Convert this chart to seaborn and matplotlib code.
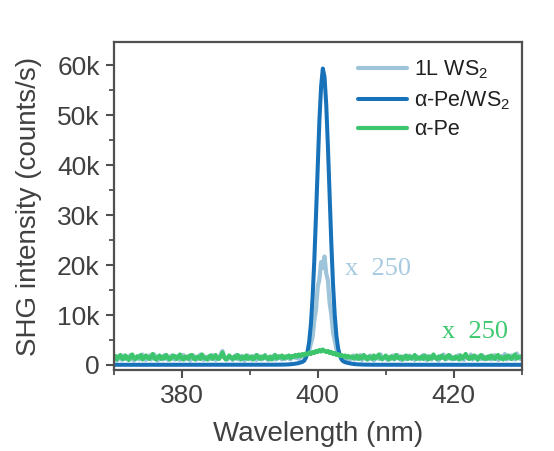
import matplotlib
matplotlib.use("Agg")
import matplotlib.pyplot as plt
import numpy as np
import pandas as pd
import seaborn as sns

# wavelength grid (nm), 0.25 nm steps from 370 to 430
wavelength = np.linspace(370, 430, 241)

# SHG intensity in k counts/s
ws2_1l = [
    1.1, 1.7, 0.9, 1.8, 1.3, 1.0, 1.9, 1.4, 1.1, 1.6, 2.0, 1.2, 0.9, 1.5, 1.8, 1.1, 1.6, 2.1, 1.2, 1.0,
    1.5, 1.9, 1.1, 1.6, 2.1, 1.2, 0.9, 1.8, 1.4, 1.1, 2.0, 1.5, 1.0, 1.4, 1.9, 1.2, 1.1, 1.8, 1.4, 1.0,
    1.6, 2.0, 1.1, 1.4, 1.8, 0.9, 1.3, 1.9, 1.5, 1.1, 1.4, 2.1, 1.2, 1.0, 1.7, 1.4, 1.1, 1.6, 2.0, 1.2,
    1.0, 1.6, 1.4, 2.2, 2.8, 1.8, 1.2, 1.1, 1.7, 1.4, 1.0, 1.6, 2.0, 1.2, 1.1, 1.8, 1.4, 0.9, 1.6, 1.9,
    1.2, 1.1, 1.8, 1.4, 1.0, 1.9, 1.5, 1.1, 1.4, 2.0, 1.2, 1.0, 1.6, 1.4, 1.9, 1.1, 1.2, 1.8, 1.4, 1.1,
    1.6, 1.2, 1.8, 1.4, 1.1, 1.6, 1.9, 1.4, 1.7, 1.2, 1.6, 2.0, 1.6, 1.9, 2.3, 3.0, 4.3, 5.6, 8.9, 11.1,
    15.6, 17.2, 20.6, 19.4, 21.7, 18.3, 16.9, 12.4, 10.1, 6.5, 4.9, 3.1, 2.5, 1.8, 1.9, 1.4, 1.7, 1.2, 1.6, 1.1,
    1.4, 1.9, 1.1, 1.6, 1.3, 2.0, 1.0, 1.4, 1.8, 1.2, 1.1, 1.9, 1.5, 0.9, 1.4, 1.8, 1.2, 2.1, 1.1, 1.4,
    1.8, 1.0, 1.6, 1.2, 1.9, 1.1, 1.4, 2.0, 1.2, 1.0, 1.6, 1.8, 1.1, 1.4, 1.9, 1.2, 1.6, 1.0, 1.8, 1.4,
    1.1, 1.6, 2.0, 1.2, 1.0, 1.8, 1.4, 1.1, 1.9, 1.5, 1.2, 0.9, 1.8, 1.4, 2.1, 1.1, 1.2, 1.6, 1.9, 1.1,
    1.4, 1.2, 1.8, 2.0, 1.1, 1.6, 1.0, 1.9, 1.4, 1.2, 2.1, 1.1, 1.6, 1.8, 1.0, 1.4, 1.2, 1.9, 1.1, 1.6,
    1.2, 1.8, 1.1, 1.4, 2.0, 1.6, 1.0, 1.2, 1.8, 1.4, 2.2, 1.1, 1.6, 1.2, 1.9, 1.4, 1.1, 2.3, 1.6, 1.2,
    1.4,
]

pe_ws2 = [
    0.04, 0.04, 0.04, 0.04, 0.04, 0.04, 0.04, 0.04, 0.04, 0.04, 0.04, 0.04, 0.04, 0.04, 0.04, 0.04, 0.04, 0.04, 0.04, 0.04,
    0.04, 0.04, 0.04, 0.04, 0.04, 0.04, 0.04, 0.04, 0.04, 0.04, 0.04, 0.04, 0.04, 0.04, 0.04, 0.04, 0.04, 0.04, 0.04, 0.04,
    0.04, 0.04, 0.04, 0.04, 0.04, 0.04, 0.04, 0.04, 0.04, 0.04, 0.05, 0.05, 0.05, 0.05, 0.05, 0.05, 0.05, 0.05, 0.05, 0.05,
    0.05, 0.05, 0.05, 0.05, 0.05, 0.05, 0.05, 0.05, 0.05, 0.05, 0.05, 0.05, 0.05, 0.05, 0.05, 0.05, 0.05, 0.05, 0.05, 0.05,
    0.05, 0.05, 0.05, 0.05, 0.05, 0.05, 0.05, 0.05, 0.05, 0.05, 0.06, 0.06, 0.06, 0.06, 0.06, 0.06, 0.07, 0.07, 0.07, 0.07,
    0.08, 0.09, 0.10, 0.12, 0.15, 0.18, 0.22, 0.27, 0.33, 0.40, 0.50, 0.62, 0.85, 1.4, 2.6, 4.7, 8.2, 13.6, 21.0, 30.0,
    39.8, 49.0, 55.8, 59.3, 57.6, 52.1, 43.6, 33.8, 24.3, 16.1, 10.0, 5.8, 3.3, 1.9, 1.1, 0.75, 0.58, 0.47, 0.39, 0.32,
    0.26, 0.21, 0.17, 0.14, 0.12, 0.10, 0.09, 0.08, 0.07, 0.06, 0.06, 0.06, 0.05, 0.05, 0.05, 0.05, 0.05, 0.05, 0.05, 0.05,
    0.05, 0.05, 0.05, 0.05, 0.05, 0.05, 0.05, 0.05, 0.05, 0.05, 0.05, 0.05, 0.05, 0.05, 0.05, 0.05, 0.05, 0.05, 0.05, 0.05,
    0.05, 0.05, 0.05, 0.05, 0.05, 0.05, 0.05, 0.05, 0.05, 0.05, 0.04, 0.04, 0.04, 0.04, 0.04, 0.04, 0.04, 0.04, 0.04, 0.04,
    0.04, 0.04, 0.04, 0.04, 0.04, 0.04, 0.04, 0.04, 0.04, 0.04, 0.04, 0.04, 0.04, 0.04, 0.04, 0.04, 0.04, 0.04, 0.04, 0.04,
    0.04, 0.04, 0.04, 0.04, 0.04, 0.04, 0.04, 0.04, 0.04, 0.04, 0.04, 0.04, 0.04, 0.04, 0.04, 0.04, 0.04, 0.04, 0.04, 0.04,
    0.04,
]

pe = [
    1.2, 1.8, 1.1, 1.6, 2.0, 1.3, 1.2, 1.9, 1.5, 1.0, 1.7, 2.1, 1.3, 1.2, 1.7, 1.5, 2.0, 1.1, 1.4, 1.9,
    1.5, 1.2, 1.7, 2.2, 1.3, 1.1, 1.6, 1.9, 1.2, 1.7, 1.3, 2.0, 1.5, 1.1, 1.4, 1.9, 1.7, 1.2, 1.5, 2.1,
    1.3, 1.1, 1.7, 1.5, 1.2, 1.9, 2.0, 1.3, 1.1, 1.6, 1.7, 1.2, 2.1, 1.5, 1.3, 1.1, 1.7, 1.9, 1.2, 1.5,
    2.0, 1.3, 1.2, 1.7, 2.5, 1.5, 1.1, 1.4, 1.9, 1.5, 1.2, 1.7, 1.3, 2.0, 1.5, 1.1, 1.7, 1.3, 1.9, 1.2,
    1.5, 1.7, 1.1, 1.4, 2.0, 1.5, 1.2, 1.7, 1.3, 1.9, 1.5, 1.2, 1.7, 1.1, 1.5, 2.0, 1.3, 1.7, 1.5, 1.9,
    1.3, 1.7, 1.5, 1.9, 1.4, 1.8, 1.6, 2.0, 1.7, 2.1, 1.8, 2.2, 1.9, 2.3, 2.1, 2.5, 2.2, 2.6, 2.4, 2.8,
    2.6, 3.0, 2.7, 3.1, 2.8, 2.6, 2.8, 2.4, 2.6, 2.2, 2.4, 2.0, 2.2, 1.8, 2.0, 1.7, 1.9, 1.5, 1.8, 1.5,
    1.7, 1.3, 1.5, 1.9, 1.2, 1.7, 1.3, 2.0, 1.5, 1.1, 1.7, 1.5, 1.2, 1.9, 1.3, 1.7, 2.1, 1.3, 1.2, 1.5,
    1.9, 1.3, 1.1, 1.7, 1.5, 1.2, 2.0, 1.5, 1.3, 1.7, 1.1, 1.5, 1.9, 1.2, 1.7, 1.3, 1.5, 2.0, 1.2, 1.5,
    1.3, 1.7, 1.2, 1.9, 1.5, 1.1, 1.7, 1.3, 2.1, 1.5, 1.2, 1.7, 1.3, 1.9, 1.5, 1.2, 1.7, 2.0, 1.3, 1.5,
    1.2, 1.7, 1.5, 1.1, 1.9, 1.3, 1.7, 2.2, 1.5, 1.2, 1.7, 1.3, 1.9, 1.5, 1.1, 1.7, 2.0, 1.3, 1.5, 1.2,
    1.7, 1.3, 1.9, 1.5, 1.2, 1.7, 2.0, 1.3, 1.5, 1.1, 1.7, 1.3, 1.9, 1.5, 1.2, 1.7, 2.1, 1.3, 1.5, 1.7,
    1.5,
]

labels = ["1L WS$_2$", "α-Pe/WS$_2$", "α-Pe"]
colors = ["#9dc4d8", "#1772ba", "#3cc56c"]
ytick_vals = [0, 10, 20, 30, 40, 50, 60]
ytick_labels = ["0", "10k", "20k", "30k", "40k", "50k", "60k"]
xtick_vals = [380, 400, 420]

df = pd.DataFrame({"wl": wavelength, "ws2": ws2_1l, "pews2": pe_ws2, "pe": pe})

sns.set_style("ticks")
plt.rcParams["font.family"] = ["Liberation Sans", "DejaVu Sans"]
plt.rcParams["mathtext.default"] = "regular"

txt = "#404040"
edge = "#505050"

fig = plt.figure(figsize=(5.54, 4.51), dpi=100)
ax = fig.add_axes([0.205, 0.1785, 0.737, 0.729])

sns.lineplot(data=df, x="wl", y="ws2", ax=ax, color=colors[0], lw=3.0, label=labels[0], estimator=None)
sns.lineplot(data=df, x="wl", y="pews2", ax=ax, color=colors[1], lw=2.9, label=labels[1], estimator=None)
sns.lineplot(data=df, x="wl", y="pe", ax=ax, color=colors[2], lw=3.0, label=labels[2], estimator=None)

ax.text(404.0, 18.0, "x  250", color="#a6cae0", fontsize=19, family="Liberation Serif", va="baseline")
ax.text(418.2, 5.4, "x  250", color="#3cc86e", fontsize=19, family="Liberation Serif", va="baseline")

ax.set_xlim(370, 430)
ax.set_ylim(-1.1, 64.66)
ax.set_xticks(xtick_vals)
ax.set_xticks([370, 390, 410, 430], minor=True)
ax.set_yticks(ytick_vals)
ax.set_yticklabels(ytick_labels)
ax.set_yticks([5, 15, 25, 35, 45, 55], minor=True)

ax.set_xlabel("Wavelength (nm)", fontsize=20, color=txt, labelpad=9)
ax.set_ylabel("SHG intensity (counts/s)", fontsize=20, color=txt, labelpad=11)
ax.tick_params(axis="both", which="major", direction="out", length=6, width=1.5,
               color=edge, labelsize=19, labelcolor=txt, pad=4)
ax.tick_params(axis="both", which="minor", direction="out", length=3.5, width=1.3, color=edge)
for sp in ax.spines.values():
    sp.set_color(edge)
    sp.set_linewidth(1.6)

ax.legend(loc="upper left", bbox_to_anchor=(0.598, 0.948), frameon=False, fontsize=15.5,
          handlelength=2.3, handletextpad=0.3, labelspacing=0.33, borderpad=0, borderaxespad=0)
for t in ax.get_legend().get_texts():
    t.set_color("#202020")

fig.savefig("out.png", dpi=100)
